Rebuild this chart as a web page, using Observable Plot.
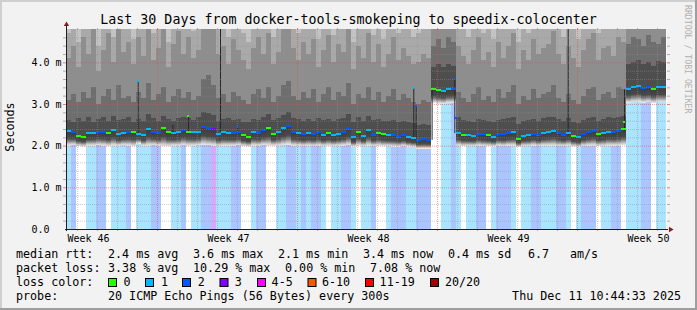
<!DOCTYPE html>
<html><head><meta charset="utf-8">
<script src="https://cdn.jsdelivr.net/npm/d3@7"></script>
<script src="https://cdn.jsdelivr.net/npm/@observablehq/plot@0.6"></script>
<style>
html,body{margin:0;padding:0;background:#f2f2f2;}
#chart svg{display:block}
</style></head>
<body><div id="chart"></div>
<script>
// ---------- data ----------
const titleText = "Last 30 Days from docker-tools-smokeping to speedix-colocenter";
const startTime = "2025-11-11T10:44:33Z";
const endTime = "2025-12-11T10:44:33Z";
const columnHours = 6;
const yDomain = [0, 4.8];
const yMajorTicks = [0, 1, 2, 3, 4];
const yTickLabels = ["0.0", "1.0 m", "2.0 m", "3.0 m", "4.0 m"];
const weekLabelTimes = ["2025-11-12T12:00:00Z", "2025-11-19T12:00:00Z", "2025-11-26T12:00:00Z", "2025-12-03T12:00:00Z", "2025-12-10T12:00:00Z"];
const weekLabels = ["Week 46", "Week 47", "Week 48", "Week 49", "Week 50"];

// median rtt per 6h column (ms)
const medianRtt = [
 2.35,2.33,2.24,2.22,2.30,2.31,2.34,2.33,2.30,2.37,2.27,2.31,
 2.34,2.32,2.28,2.26,2.40,2.33,2.31,2.42,2.33,2.30,2.32,2.38,
 2.34,2.33,2.34,2.45,2.42,2.40,2.28,2.32,2.31,2.30,2.32,2.25,
 2.22,2.33,2.30,2.37,2.43,2.28,2.34,2.42,2.48,2.32,2.30,2.27,
 2.30,2.28,2.32,2.26,2.30,2.26,2.28,2.32,2.40,2.20,2.34,2.24,
 2.38,2.26,2.30,2.27,2.25,2.25,2.22,2.25,2.20,2.18,2.14,2.15,
 2.14,3.37,3.33,3.31,3.35,3.36,2.30,2.26,2.25,2.24,2.29,2.27,
 2.25,2.22,2.28,2.27,2.30,2.32,2.16,2.24,2.26,2.29,2.25,2.31,
 2.33,2.36,2.30,2.26,2.31,2.23,2.20,2.28,2.32,2.36,2.27,2.30,
 2.34,2.32,2.35,2.40,3.36,3.42,3.44,3.38,3.40,3.35,3.41,3.40];
// fastest ping per column (ms)
const minRtt = [
 2.00,2.01,1.99,1.98,2.00,2.00,2.01,2.00,1.99,2.00,2.00,2.01,
 2.00,1.99,2.05,2.00,2.00,2.01,2.00,1.99,1.99,2.00,2.00,2.01,
 2.00,2.00,2.01,2.02,2.01,2.00,1.99,2.00,2.00,2.00,2.01,1.99,
 1.98,2.00,2.00,2.01,2.00,2.00,2.00,2.01,2.02,2.00,2.00,1.99,
 2.00,1.99,2.00,1.99,2.00,1.99,2.00,2.00,2.01,1.98,2.00,1.99,
 2.00,1.99,2.00,1.99,1.99,1.98,1.98,1.99,1.98,1.97,1.93,1.93,
 1.93,3.02,3.01,3.00,3.02,3.02,2.00,1.99,1.99,1.99,2.00,1.99,
 1.99,1.98,2.00,1.99,2.00,2.00,1.97,1.99,1.99,2.00,1.99,2.00,
 2.00,2.00,1.99,1.99,2.00,1.98,1.97,1.99,2.00,2.00,1.99,1.99,
 2.00,2.00,2.00,2.01,3.03,3.04,3.05,3.03,3.04,3.02,3.04,3.04];
// lost pings (of 20) per column
const lossCount = [
 1,2,0,0,1,1,2,2,0,1,1,1,
 2,0,1,1,1,2,2,0,0,1,1,2,
 0,1,1,2,2,3,1,1,1,2,2,0,
 0,1,2,2,0,0,1,1,2,2,1,2,
 1,2,2,1,0,1,1,2,2,1,0,1,
 1,2,0,0,1,2,2,2,1,1,2,2,
 2,0,0,1,1,2,1,0,1,1,2,2,
 0,1,2,2,2,1,0,1,1,2,2,1,
 1,1,2,2,1,0,1,2,2,2,0,1,
 1,2,2,0,1,1,1,2,2,0,1,1];
// upper smoke boundaries (ms) per column
const smokeA = [
 2.62,2.58,2.66,2.60,2.70,2.57,2.64,2.68,2.59,2.72,2.61,2.65,
 2.70,2.58,2.63,2.60,2.75,2.66,2.59,2.72,2.64,2.60,2.67,2.70,
 2.66,2.62,2.68,2.80,2.78,2.74,2.60,2.64,2.66,2.62,2.65,2.58,
 2.56,2.65,2.62,2.70,2.76,2.62,2.66,2.74,2.80,2.66,2.63,2.60,
 2.64,2.60,2.66,2.62,2.65,2.60,2.63,2.66,2.75,2.56,2.68,2.60,
 2.72,2.62,2.65,2.60,2.60,2.62,2.57,2.60,2.56,2.55,2.50,2.52,
 2.50,3.90,3.95,3.88,3.96,3.92,2.70,2.62,2.60,2.58,2.64,2.61,
 2.60,2.56,2.62,2.63,2.66,2.68,2.52,2.60,2.62,2.64,2.60,2.66,
 2.68,2.70,2.64,2.60,2.66,2.58,2.55,2.62,2.66,2.70,2.60,2.64,
 2.68,2.66,2.70,2.72,3.95,4.02,4.05,3.96,4.00,3.92,4.04,4.00];
const smokeB = [
 3.10,3.25,3.05,3.30,3.15,3.40,3.00,3.20,3.35,3.10,3.45,3.15,
 3.20,3.05,3.30,3.15,3.50,3.10,3.25,3.40,3.05,3.20,3.35,3.15,
 3.30,3.10,3.20,3.60,3.70,3.45,3.15,3.25,3.05,3.30,3.20,3.10,
 3.00,3.25,3.35,3.15,3.40,3.05,3.20,3.45,3.55,3.20,3.10,3.30,
 3.15,3.35,3.05,3.25,3.40,3.10,3.30,3.20,3.50,3.00,3.25,3.15,
 3.40,3.10,3.30,3.05,3.20,3.35,3.10,3.25,3.15,3.05,3.00,3.10,
 3.05,4.40,4.55,4.35,4.60,4.50,3.30,3.15,3.05,3.25,3.40,3.10,
 3.20,3.05,3.35,3.15,3.30,3.45,3.00,3.20,3.10,3.35,3.15,3.25,
 3.30,3.45,3.15,3.05,3.25,3.10,3.00,3.20,3.35,3.40,3.10,3.25,
 3.30,3.15,3.40,3.35,4.45,4.60,4.55,4.40,4.65,4.50,4.45,4.60];
const smokeC = [
 4.10,4.40,3.90,4.60,4.20,4.90,3.80,4.30,4.70,4.00,5.00,4.25,
 4.50,3.95,4.60,4.15,5.00,4.05,4.35,4.80,3.90,4.45,4.75,4.20,
 4.60,4.10,4.30,5.00,5.00,4.90,4.20,4.40,3.95,4.55,4.30,4.05,
 3.85,4.35,4.60,4.20,4.70,3.95,4.25,4.80,5.00,4.35,4.05,4.50,
 4.20,4.55,3.90,4.30,4.65,4.00,4.45,4.25,4.90,3.85,4.40,4.10,
 4.70,4.00,4.45,3.90,4.20,4.60,4.05,4.35,4.15,3.95,4.00,4.20,
 4.10,5.20,5.30,5.10,5.30,5.20,4.40,4.15,3.95,4.30,4.60,4.05,
 4.25,3.90,4.50,4.10,4.40,4.70,3.85,4.30,4.05,4.55,4.20,4.35,
 4.45,4.75,4.20,3.95,4.40,4.10,3.90,4.30,4.55,4.70,4.05,4.35,
 4.40,4.15,4.60,4.50,5.20,5.30,5.25,5.10,5.40,5.20,5.10,5.30];
const smokeD = [
 4.70,5.20,4.50,5.40,4.90,5.50,4.40,5.00,5.40,4.60,5.60,4.95,
 5.20,4.55,5.30,4.80,5.60,4.70,5.10,5.50,4.50,5.20,5.40,4.90,
 5.30,4.75,5.00,5.60,5.60,5.50,4.85,5.10,4.60,5.25,5.00,4.70,
 4.50,5.05,5.30,4.90,5.40,4.60,4.95,5.50,5.60,5.05,4.70,5.20,
 4.90,5.25,4.55,5.00,5.35,4.65,5.15,4.95,5.50,4.50,5.10,4.80,
 5.40,4.65,5.15,4.55,4.90,5.30,4.70,5.05,4.85,4.60,4.70,4.90,
 4.80,5.80,5.90,5.70,5.90,5.80,5.10,4.85,4.60,5.00,5.30,4.70,
 4.95,4.55,5.20,4.80,5.10,5.40,4.50,5.00,4.70,5.25,4.90,5.05,
 5.15,5.45,4.90,4.60,5.10,4.80,4.55,5.00,5.25,5.40,4.70,5.05,
 5.10,4.85,5.30,5.20,5.80,5.90,5.85,5.70,6.00,5.80,5.70,5.90];

// short spikes (days after start)
const spikeLineDay  = [3.585, 6.10, 8.565, 17.365, 17.485, 18.28, 19.415, 27.90, 5.32, 7.70, 25.085];
const spikeLineFrom = [2.28, 2.34, 2.30, 2.20, 2.15, 2.14, 2.30, 2.35, 2.33, 2.34, 2.26];
const spikeLineTo   = [3.55, 2.72, 2.45, 3.38, 2.96, 3.37, 3.60, 3.35, 2.50, 4.80, 4.80];
const spikeDotDay  = [3.585, 6.10, 8.565, 17.365, 17.485, 19.415, 19.485, 27.90];
const spikeDotRtt  = [3.55, 2.72, 2.45, 3.38, 2.96, 3.60, 2.67, 2.58];
const spikeDotLoss = [1, 0, 2, 1, 2, 2, 2, 0];

// legend
const lossLabels = ["0", "1", "2", "3", "4-5", "6-10", "11-19", "20/20"];
const lossColors = ["#26ff00", "#00b8ff", "#0059ff", "#7e00ff", "#ff00ff", "#ff5500", "#ff0000", "#a10000"];
const rttStats = ["2.4 ms avg", "3.6 ms max", "2.1 ms min", "3.4 ms now", "0.4 ms sd", "6.7", "am/s"];
const lossStats = ["3.38 % avg", "10.29 % max", "0.00 % min", "7.08 % now"];
const probeText = "20 ICMP Echo Pings (56 Bytes) every 300s";
const stampText = "Thu Dec 11 10:44:33 2025";

// ---------- build ----------
const T0 = new Date(startTime), T1 = new Date(endTime);
const DAY = 864e5;
const at = d => new Date(+T0 + d * DAY);
const step = columnHours / 24;
const lossBarFill = ["#ffffff", "#abe4ff", "#abc6ff", "#d5abff"];
const bandGrays = ["#4e4e4e", "#6e6e6e", "#8e8e8e", "#a9a9a9", "#c3c3c3"];

const cols = medianRtt.map((m, i) => ({
  t1: at(i * step), t2: at((i + 1) * step), med: m, lo: minRtt[i], loss: lossCount[i],
  u: [smokeA[i], smokeB[i], smokeC[i], smokeD[i]]
}));
const bands = cols.flatMap(c => {
  const e = [c.med, ...c.u, yDomain[1]];
  return bandGrays.map((g, k) => ({t1: c.t1, t2: c.t2, y1: Math.min(e[k], yDomain[1]), y2: Math.min(Math.max(e[k], e[k + 1]), yDomain[1]), g}));
}).filter(b => b.y2 > b.y1);
const spikeLines = spikeLineDay.map((d, i) => ({t: at(d), y1: spikeLineFrom[i], y2: spikeLineTo[i]}));
const spikeDots = spikeDotDay.map((d, i) => ({t: at(d), y: spikeDotRtt[i], loss: spikeDotLoss[i]}));
const weekTicks = weekLabelTimes.map((t, i) => ({t: new Date(t), label: weekLabels[i]}));

const majorX = d3.utcSunday.range(T0, T1);
const minorX = d3.utcDay.range(T0, T1).filter(d => d.getUTCDay() !== 0);
const allY = d3.ticks(yDomain[0], yDomain[1], 24).filter(v => v > 0 && v < yDomain[1]);
const majorY = allY.filter(v => Math.abs(v - Math.round(v)) < 1e-9);
const minorY = allY.filter(v => Math.abs(v - Math.round(v)) >= 1e-9);

const MONO = "DejaVu Sans Mono";
const gridGray = "#8f8f8f", gridRed = "#de4f4f";

const plot = Plot.plot({
  width: 697, height: 310,
  marginLeft: 66, marginRight: 31, marginTop: 29, marginBottom: 81,
  x: {type: "utc", domain: [T0, T1], axis: null},
  y: {domain: yDomain, axis: null, label: null},
  color: {type: "identity"},
  style: {background: "#f2f2f2", fontFamily: MONO, fontSize: "10px", color: "#000", overflow: "visible"},
  marks: [
    Plot.frame({fill: "#ffffff", stroke: null}),
    Plot.rect(cols, {x1: "t1", x2: "t2", y1: 0, y2: "lo", fill: d => lossBarFill[d.loss], shapeRendering: "crispEdges", clip: true}),
    Plot.rect(cols, {x1: "t1", x2: "t2", y1: "lo", y2: "med", fill: "url(#lowSmoke)", shapeRendering: "crispEdges", clip: true}),
    Plot.rect(bands, {x1: "t1", x2: "t2", y1: "y1", y2: "y2", fill: "g", shapeRendering: "crispEdges", clip: true}),
    Plot.ruleX(spikeLines, {x: "t", y1: "y1", y2: "y2", stroke: "#262626", clip: true}),
    Plot.rect(cols, {x1: "t1", x2: "t2", y1: "med", y2: "med", insetTop: -1, insetBottom: -1, fill: d => lossColors[d.loss], shapeRendering: "crispEdges"}),
    Plot.rect(spikeDots, {x1: "t", x2: "t", y1: "y", y2: "y", insetTop: -1, insetBottom: -1, insetLeft: -1, insetRight: -1, fill: d => lossColors[d.loss], shapeRendering: "crispEdges"}),
    // grid on top
    Plot.gridY(minorY, {stroke: gridGray, strokeOpacity: 0.45, strokeDasharray: "1,1"}),
    Plot.gridX(minorX, {stroke: gridGray, strokeOpacity: 0.45, strokeDasharray: "1,1"}),
    Plot.gridY(majorY, {stroke: gridRed, strokeOpacity: 0.55, strokeDasharray: "1,1"}),
    Plot.gridX(majorX, {stroke: gridRed, strokeOpacity: 0.55, strokeDasharray: "1,1"}),
    // little ticks outside the canvas
    Plot.axisY(minorY, {anchor: "left", tickSize: 3, tickFormat: () => "", label: null, stroke: gridGray, strokeOpacity: 0.7}),
    Plot.axisY(minorY, {anchor: "right", tickSize: 3, tickFormat: () => "", label: null, stroke: gridGray, strokeOpacity: 0.7}),
    Plot.axisY(majorY, {anchor: "left", tickSize: 3, tickFormat: () => "", label: null, stroke: gridRed, strokeOpacity: 0.7}),
    Plot.axisY(majorY, {anchor: "right", tickSize: 3, tickFormat: () => "", label: null, stroke: gridRed, strokeOpacity: 0.7}),
    Plot.axisX(minorX, {anchor: "bottom", tickSize: 2, tickFormat: () => "", label: null, stroke: gridGray, strokeOpacity: 0.7}),
    Plot.axisX(minorX, {anchor: "top", tickSize: 2, tickFormat: () => "", label: null, stroke: gridGray, strokeOpacity: 0.7}),
    Plot.axisX(majorX, {anchor: "bottom", tickSize: 2, tickFormat: () => "", label: null, stroke: gridRed, strokeOpacity: 0.7}),
    Plot.axisX(majorX, {anchor: "top", tickSize: 2, tickFormat: () => "", label: null, stroke: gridRed, strokeOpacity: 0.7}),
    // axis lines & arrows
    Plot.ruleY([0], {stroke: "#1f1f1f", insetLeft: -1, insetRight: -2}),
    Plot.ruleX([T0], {stroke: "#1f1f1f", insetTop: -4, insetBottom: -2}),
    Plot.dot([T0], {x: d => d, y: yDomain[1], symbol: "triangle", r: 2, fill: "#801f1f", stroke: null, dy: -5}),
    Plot.dot([T1], {x: d => d, y: 0, symbol: "triangle", r: 2, fill: "#801f1f", stroke: null, rotate: 90, dx: 4}),
    // labels
    Plot.axisY(yMajorTicks, {anchor: "left", tickSize: 0, tickPadding: 0, label: null, textAnchor: "start", dx: -35,
      tickFormat: d => yTickLabels[yMajorTicks.indexOf(d)], fontSize: 10, fontFamily: MONO, fill: "#000"}),
    Plot.text(weekTicks, {x: "t", y: 0, text: "label", lineAnchor: "top", dy: 5, dx: 1, fontSize: 10, fontFamily: MONO, fill: "#000"})
  ]
});
document.getElementById("chart").append(plot);

// ---------- decorations (title, legend, frame) ----------
const svg = d3.select(plot);
const defs = svg.insert("defs", ":first-child");
const grad = defs.append("linearGradient").attr("id", "lowSmoke").attr("x1", 0).attr("y1", 1).attr("x2", 0).attr("y2", 0);
[[0, "#ececec"], [0.14, "#c4c4c4"], [0.32, "#7e7e7e"], [0.5, "#4a4a4a"], [1, "#3c3c3c"]]
  .forEach(([o, c]) => grad.append("stop").attr("offset", o).attr("stop-color", c));

function txt(x, y, s, size, anchor, fill) {
  return svg.append("text").attr("x", x).attr("y", y).attr("text-anchor", anchor || "start")
    .attr("font-family", MONO).attr("font-size", size).attr("fill", fill || "#000")
    .style("white-space", "pre").text(s);
}
// 3D frame
svg.append("rect").attr("x", 0).attr("y", 0).attr("width", 697).attr("height", 2).attr("fill", "#cfcfcf");
svg.append("rect").attr("x", 0).attr("y", 0).attr("width", 2).attr("height", 310).attr("fill", "#cfcfcf");
svg.append("rect").attr("x", 0).attr("y", 308).attr("width", 697).attr("height", 2).attr("fill", "#9e9e9e");
svg.append("rect").attr("x", 695).attr("y", 0).attr("width", 2).attr("height", 310).attr("fill", "#9e9e9e");

txt(348.5, 24, titleText, 13.3, "middle");
txt(0, 0, "Seconds", 11.7, "middle").attr("transform", "translate(14,127) rotate(-90)");
txt(0, 0, "RRDTOOL / TOBI OETIKER", 8.2, "start", "#b0b0b0").attr("transform", "translate(685,5) rotate(90)");

const LF = 11.7, CW = 7.08;
const colX = c => 16 + c * CW;
txt(16, 258, "median rtt:", LF);
[colX(13), colX(25), colX(37), colX(49), colX(61), 528, 570].forEach((x, i) => txt(x, 258, rttStats[i], LF));
txt(16, 272, "packet loss:", LF);
[colX(13), colX(25), colX(38), colX(50)].forEach((x, i) => txt(x, 272, lossStats[i], LF));
txt(16, 286, "loss color:", LF);
const boxX = [108, 145, 182, 219.5, 257, 307.5, 365, 430];
const labX = [123.6, 160.9, 197.8, 234.7, 271.6, 322, 379.6, 444.9];
lossLabels.forEach((l, i) => {
  svg.append("rect").attr("x", boxX[i] + 0.5).attr("y", 278.5).attr("width", 8).attr("height", 8)
    .attr("fill", lossColors[i]).attr("stroke", "#000").attr("stroke-width", 1);
  txt(labX[i], 286, l, LF);
});
txt(16, 300, "probe:", LF);
txt(108, 300, probeText, LF);
txt(681, 300, stampText, LF, "end");
</script>
</body></html>
